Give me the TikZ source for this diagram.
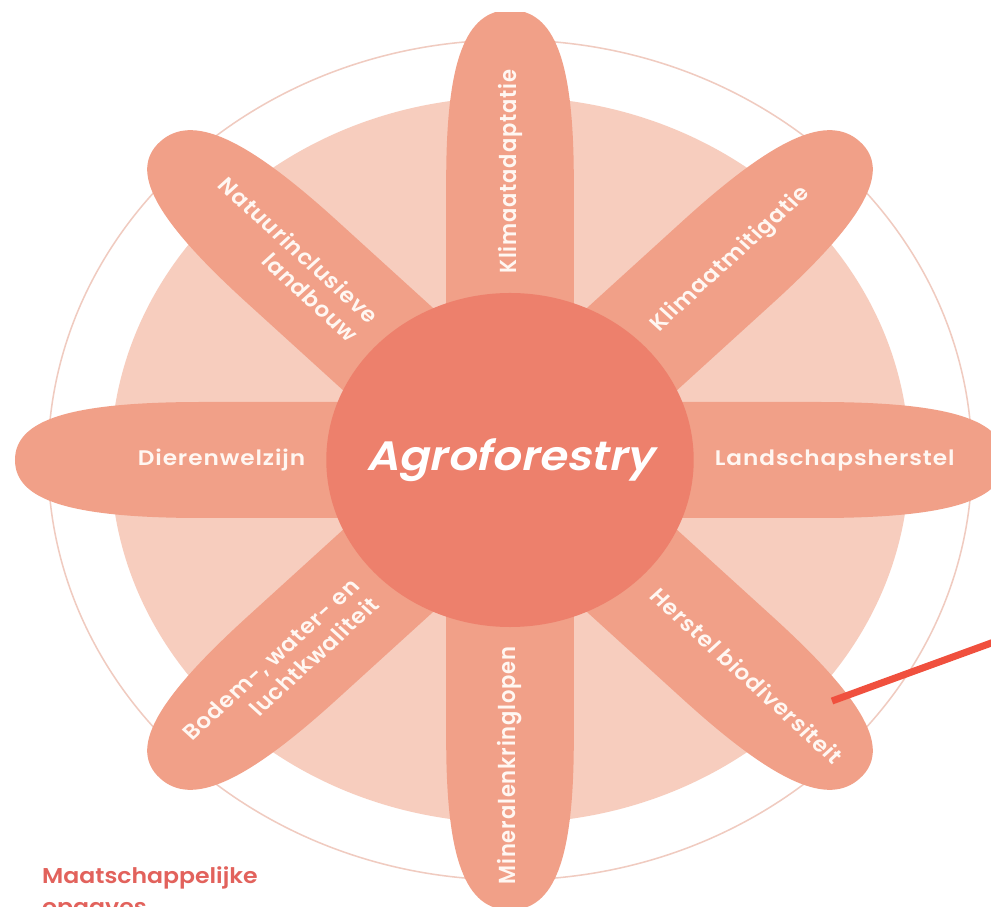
\documentclass[tikz,border=0pt]{standalone}
\usepackage{fontspec}
\setmainfont{Poppins}
\newfontfamily\labelfont[LetterSpace=4]{Poppins SemiBold}
\newfontfamily\captionfont{Poppins SemiBold}
\newfontfamily\agrofont[FakeSlant=0.2]{Poppins SemiBold}
\definecolor{disk}{HTML}{F7CDBE}
\definecolor{petal}{HTML}{F1A088}
\definecolor{heart}{HTML}{ED806C}
\definecolor{ring}{HTML}{F0CBC0}
\definecolor{pointer}{HTML}{F0503E}
\definecolor{caption}{HTML}{E2625C}
\definecolor{petaltext}{HTML}{FFF7F2}

\begin{document}
\begin{tikzpicture}[x=0.03cm,y=0.03cm]
  \tikzstyle{petal label}=[text=petaltext,font=\labelfont\fontsize{18}{22}\selectfont,inner sep=0pt,align=right]
  \tikzstyle{heart}=[circle,fill=heart,minimum size=10.02cm,inner sep=0pt,text=white,font=\agrofont\fontsize{35}{40}\selectfont]
  \tikzstyle{caption text}=[text=caption,font=\captionfont\fontsize{18.3}{24}\selectfont,inner sep=0pt]
  \useasboundingbox (-510,-447) rectangle (481,460);
  \clip (-510,-447) rectangle (481,460);
  \fill[white] (-510,-447) rectangle (481,460);
  \begin{scope}[xscale=1.1,transform shape]
    \draw[ring,line width=1.3pt] (0,0) circle (420);
    \fill[disk] (0,0) circle (363);
    \foreach \a in {0,45,...,315}
      \fill[petal,rotate=\a] (0,-58) -- (280,-58) .. controls (399,-58) and (450,-40.6) .. (450,0)
        .. controls (450,40.6) and (399,58) .. (280,58) -- (0,58) -- cycle;
    \node[heart] (agro) at (0,0) {Agroforestry};
    \foreach \a/\turn/\side/\txt in {90/90/west/Klimaatadaptatie,
        45/45/west/Klimaatmitigatie,
        0/0/west/Landschapsherstel,
        -45/-45/west/Herstel biodiversiteit,
        -90/90/east/Mineralenkringlopen,
        -135/45/east/{Bodem-, water- en\\luchtkwaliteit},
        180/0/east/Dierenwelzijn,
        135/-45/east/{Natuurinclusieve\\landbouw}}
      \node[petal label,rotate=\turn,anchor=\side] (label\a) at (\a:186) {\txt};
    \node[caption text,anchor=base west] (maat) at (-425.5,-423) {Maatschappelijke};
    \node[caption text,anchor=base west] (opgaves) at ([yshift=-0.93cm]maat.base west) {opgaves};
  \end{scope}
  \fill[white] (-510,448) rectangle (481,460);
  \coordinate (pointer tip) at (322,-241);
  \coordinate (pointer end) at (495,-178);
  \draw[pointer,line width=6pt] (pointer tip) -- (pointer end);
\end{tikzpicture}
\end{document}
